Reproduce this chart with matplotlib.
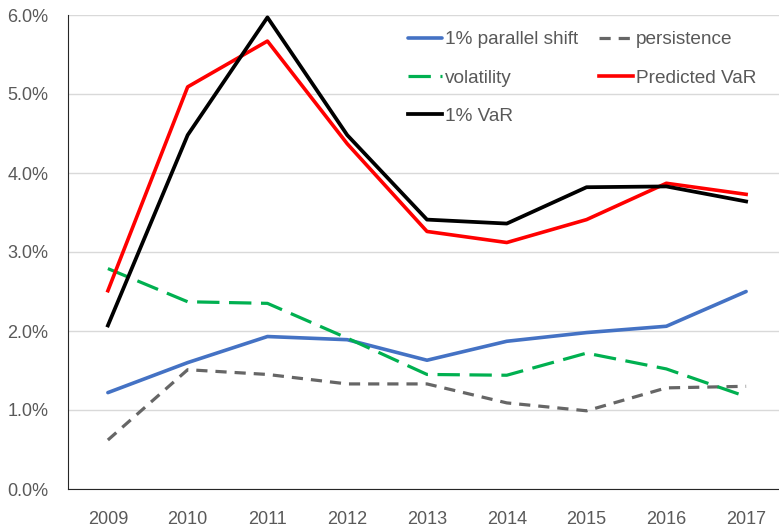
import matplotlib
matplotlib.use("Agg")
import matplotlib.pyplot as plt
from matplotlib.ticker import FuncFormatter

years = ["2009", "2010", "2011", "2012", "2013", "2014", "2015", "2016", "2017"]
parallel = [1.22, 1.60, 1.93, 1.89, 1.63, 1.87, 1.98, 2.06, 2.50]
persistence = [0.62, 1.51, 1.45, 1.33, 1.33, 1.09, 0.99, 1.28, 1.30]
volatility = [2.79, 2.37, 2.35, 1.91, 1.45, 1.44, 1.72, 1.52, 1.17]
predicted = [2.51, 5.09, 5.67, 4.37, 3.26, 3.12, 3.41, 3.87, 3.73]
var1 = [2.07, 4.48, 5.97, 4.48, 3.41, 3.36, 3.82, 3.83, 3.64]

plt.rcParams['font.family'] = ['Liberation Sans', 'DejaVu Sans']
txt = "#595959"

fig = plt.figure(figsize=(7.79, 5.30), dpi=100)
ax = fig.add_axes([68/779, 41/530, (786-68)/779, (489-15)/530])

x = range(len(years))
l1, = ax.plot(x, parallel, color="#4472C4", lw=2.6, label="1% parallel shift", solid_capstyle="round")
l2, = ax.plot(x, persistence, color="#666666", lw=2.3, dashes=(3.5, 2.5), label="persistence")
l3, = ax.plot(x, volatility, color="#00B050", lw=2.3, dashes=(7, 3), label="volatility")
l4, = ax.plot(x, predicted, color="#FF0000", lw=2.6, label="Predicted VaR")
l5, = ax.plot(x, var1, color="#000000", lw=2.7, label="1% VaR")

ax.set_xlim(-0.5, len(years) - 0.5)
ax.set_ylim(0, 6)
ax.set_yticks([0, 1, 2, 3, 4, 5, 6])
ax.yaxis.set_major_formatter(FuncFormatter(lambda v, p: "%.1f%%" % v))
ax.set_xticks(list(x))
ax.set_xticklabels(years)
ax.grid(axis="y", color="#d9d9d9", lw=1)
ax.set_axisbelow(True)
for s in ["top", "right"]:
    ax.spines[s].set_visible(False)
ax.spines["left"].set_color("#262626")
ax.spines["bottom"].set_color("#262626")
ax.tick_params(length=0, labelsize=13, labelcolor=txt)
ax.tick_params(axis="y", pad=14)
ax.tick_params(axis="x", pad=15.5)

leg = ax.legend([l1, l3, l5, l2, l4],
                [l.get_label() for l in [l1, l3, l5, l2, l4]],
                ncol=2, loc="upper left", bbox_to_anchor=(408/779, 1 - 31/530),
                bbox_transform=fig.transFigure, frameon=False, fontsize=13.7,
                handlelength=1.8, handletextpad=0.15, columnspacing=1.1,
                labelspacing=1.1, borderpad=0, borderaxespad=0)
for t in leg.get_texts():
    t.set_color(txt)

fig.savefig("out.png", dpi=100)
